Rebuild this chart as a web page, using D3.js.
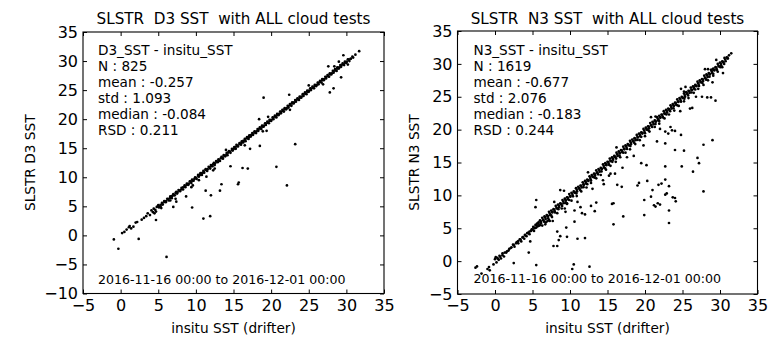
<!DOCTYPE html>
<html><head><meta charset="utf-8">
<script src="https://cdn.jsdelivr.net/npm/d3@7/dist/d3.min.js"></script>
<style>
html,body{margin:0;padding:0;background:#fff;}
text{font-family:"DejaVu Sans",sans-serif;fill:#000;white-space:pre;}
</style></head>
<body><svg id="chart" width="783" height="337"></svg>
<script>
// ---------- data ----------
const xTicks = [-5,0,5,10,15,20,25,30,35];
const yTicksD3 = [-10,-5,0,5,10,15,20,25,30,35];
const yTicksN3 = [-5,0,5,10,15,20,25,30,35];
const titles = ["SLSTR  D3 SST  with ALL cloud tests","SLSTR  N3 SST  with ALL cloud tests"];
const yLabels = ["SLSTR D3 SST","SLSTR N3 SST"];
const xLabel = "insitu SST (drifter)";
const statsD3 = ["D3_SST - insitu_SST","N : 825","mean : -0.257","std : 1.093","median : -0.084","RSD : 0.211"];
const statsN3 = ["N3_SST - insitu_SST","N : 1619","mean : -0.677","std : 2.076","median : -0.183","RSD : 0.244"];
const dateRange = "2016-11-16 00:00 to 2016-12-01 00:00";

// [insitu, SLSTR] pairs
const d3Points = [
[0.2,0.4],[0.5,0.6],[0.8,1.0],[1.1,1.4],[1.2,1.6],[1.4,1.2],[1.7,1.5],[2.0,2.2],[2.2,2.3],[2.8,2.7],[3.1,3.0],[3.4,3.3],[3.6,3.8],[3.9,3.5],[4.1,4.3],[4.3,4.0],[4.5,3.8],[4.6,4.4],[4.8,4.9],[5.0,5.2],[5.1,4.8],[5.3,5.0],[5.5,5.6],[5.6,5.3],[5.8,5.9],[6.0,5.7],[6.2,6.3],[6.4,6.0],[6.6,6.7],[6.8,6.4],[7.0,7.1],[7.2,6.9],[7.4,7.5],[7.5,7.2],[7.7,7.8],[7.9,7.6],[8.1,8.2],[8.3,7.9],[8.5,8.6],[8.6,8.3],[8.8,8.9],[9.0,8.7],[9.2,9.3],[9.4,9.0],[9.5,9.6],[9.7,9.4],[9.9,10.0],[10.1,9.7],[10.3,10.4],[10.4,10.1],[10.6,10.7],[10.8,10.4],[11.0,11.1],[11.1,10.8],[11.3,11.4],[11.5,11.1],[11.7,11.8],[11.9,11.5],[12.0,12.1],[12.2,11.9],[12.4,12.5],[12.5,12.1],[12.7,12.8],[12.9,12.6],[13.0,13.1],[13.2,12.8],[13.4,13.5],[13.6,13.2],[13.7,13.8],[13.9,13.6],[14.1,14.2],[14.2,13.8],[14.4,14.5],[14.6,14.2],[14.8,14.9],[14.9,14.6],[15.1,15.2],[15.3,14.9],[15.4,15.6],[15.6,15.3],[15.8,15.9],[16.0,15.6],[16.1,16.2],[16.3,16.0],[16.5,16.6],[16.6,16.2],[16.8,16.9],[17.0,16.6],[17.1,17.2],[17.3,17.0],[17.5,17.6],[17.6,17.3],[17.8,17.9],[18.0,17.6],[18.2,18.3],[18.3,18.0],[18.5,18.6],[18.7,18.3],[18.8,18.9],[19.0,18.7],[19.2,19.3],[19.3,19.0],[19.5,19.6],[19.7,19.3],[19.8,19.9],[20.0,19.7],[20.2,20.3],[20.3,20.0],[20.5,20.6],[20.7,20.3],[20.8,20.9],[21.0,20.7],[21.2,21.3],[21.3,21.0],[21.5,21.6],[21.7,21.3],[21.8,21.9],[22.0,21.7],[22.2,22.3],[22.3,22.0],[22.5,22.6],[22.7,22.3],[22.8,22.9],[23.0,22.7],[23.2,23.3],[23.3,23.0],[23.5,23.6],[23.7,23.3],[23.8,23.9],[24.0,23.7],[24.2,24.3],[24.3,24.0],[24.5,24.6],[24.7,24.3],[24.8,24.9],[25.0,24.7],[25.2,25.3],[25.3,25.0],[25.5,25.6],[25.7,25.3],[25.8,25.9],[26.0,25.7],[26.2,26.3],[26.3,26.0],[26.5,26.6],[26.7,26.3],[26.8,26.9],[27.0,26.7],[27.2,27.3],[27.3,27.0],[27.5,27.6],[27.7,27.3],[27.8,27.9],[28.0,27.7],[28.2,28.3],[28.3,28.0],[28.5,28.6],[28.7,28.3],[28.8,28.9],[29.0,28.7],[29.2,29.3],[29.3,29.0],[29.5,29.6],[29.7,29.3],[29.8,29.9],[30.0,29.7],[30.2,30.3],[30.4,30.0],[30.6,30.4],[30.9,30.6],[31.2,31.1],[31.7,31.7],
[5.05,4.95],[5.3,5.25],[5.55,5.4],[5.8,5.75],[6.05,5.9],[6.3,6.25],[6.55,6.4],[6.8,6.75],[7.05,6.9],[7.3,7.3],[7.55,7.4],[7.8,7.7],[8.05,7.9],[8.3,8.25],[8.55,8.4],[8.8,8.7],[9.05,8.9],[9.3,9.25],[9.55,9.4],[9.8,9.7],[10.05,9.9],[10.3,10.25],[10.55,10.4],[10.8,10.7],[11.05,10.9],[11.3,11.25],[11.55,11.4],[11.8,11.7],[12.05,11.9],[12.3,12.25],[12.55,12.4],[12.8,12.7],[13.05,12.9],[13.3,13.25],[13.55,13.4],[13.8,13.7],[14.05,13.9],[14.3,14.25],[14.55,14.4],[14.8,14.7],[15.05,14.9],[15.3,15.25],[15.55,15.4],[15.8,15.7],[16.05,15.9],[16.3,16.25],[16.55,16.4],[16.8,16.7],[17.05,16.9],[17.3,17.25],[17.55,17.4],[17.8,17.7],[18.05,17.9],[18.3,18.25],[18.55,18.4],[18.8,18.7],[19.05,18.9],[19.3,19.25],[19.55,19.4],[19.8,19.7],[20.05,19.9],[20.3,20.25],[20.55,20.4],[20.8,20.7],[21.05,20.9],[21.3,21.25],[21.55,21.4],[21.8,21.7],[22.05,21.9],[22.3,22.25],[22.55,22.4],[22.8,22.7],[23.05,22.9],[23.3,23.25],[23.55,23.4],[23.8,23.7],[24.05,23.9],[24.3,24.25],[24.55,24.4],[24.8,24.7],[25.05,24.9],[25.3,25.25],[25.55,25.4],[25.8,25.7],[26.05,25.9],[26.3,26.25],[26.55,26.4],[26.8,26.7],[27.05,26.9],[27.3,27.25],[27.55,27.4],[27.8,27.7],[28.05,27.9],[28.3,28.25],[28.55,28.4],[28.8,28.7],[29.05,28.9],[29.3,29.25],[29.55,29.4],[29.8,29.7],[30.05,29.9],[30.3,30.25],[30.55,30.4],[30.8,30.75],
[14.0,14.7],[16.5,15.5],[19.6,20.4],[22.5,21.6],[25.0,25.8],[26.9,26.0],[28.4,29.1],[29.0,29.9],[30.2,29.4],[18.9,17.9],[12.3,11.2],[9.6,8.6],[7.3,6.3],[6.6,6.0],[4.4,4.6],[4.7,4.1],[5.4,4.7],
[-0.9,-0.7],[-0.3,-2.3],[2.4,-0.6],[6.1,-3.7],[4.7,2.65],[7.0,4.9],[9.5,4.8],[11.0,2.9],[11.9,3.3],[12.0,6.9],[11.3,7.7],[13.2,7.7],[13.4,8.8],[15.6,8.8],[15.7,9.1],[22.1,8.6],[7.4,5.8],[8.7,6.7],[9.4,8.3],[11.4,10.1],[10.4,9.5],[19.0,23.7],[23.2,15.7],[18.4,20.0],[17.2,14.9],[18.5,15.4],[28.3,25.3],[27.8,24.6],[29.3,27.2],[20.7,11.8],[14.6,11.9],[16.2,11.6],[16.9,11.5],[27.6,29.1],[22.4,24.2],[19.4,18.0],[12.5,11.5],[29.6,31.0]
];

const n3Points = [
[-2.6,-1.0],[-2.4,-0.8],[-1.8,-1.9],[-1.0,-1.2],[-0.8,-0.9],[-0.7,-1.4],[-0.2,-0.5],[0.0,0.3],[0.1,0.6],[0.2,-0.2],[0.3,0.5],[0.5,0.2],[0.6,0.8],[0.8,0.4],[1.0,1.2],[1.2,0.7],[1.5,1.3],[1.8,1.6],[2.1,2.0],[2.4,2.5],[2.6,2.2],[2.9,2.9],[3.1,2.7],[3.3,3.3],[3.5,3.0],[3.7,3.6],[3.9,3.4],[4.0,4.0],[4.2,3.8],[4.4,4.3],[4.6,4.1],[4.7,3.0],[4.8,4.6],[5.0,4.8],[5.1,5.2],[5.2,4.6],[5.3,5.0],[5.4,5.5],[5.5,5.1],[5.6,5.7],[5.7,5.3],[5.8,5.9],[5.9,5.4],
[6.0,6.2],[6.3,6.6],[6.6,6.8],[6.9,7.0],[7.2,7.5],[7.5,7.7],[7.8,7.9],[8.1,8.4],[8.4,8.6],[8.7,8.8],[9.0,9.3],[9.3,9.5],[9.6,9.7],[9.9,10.2],[10.2,10.4],[10.5,10.6],[10.8,11.1],[11.1,11.3],[11.4,11.5],[11.7,12.0],[12.0,12.2],[12.3,12.4],[12.6,12.9],[12.9,13.1],[13.2,13.3],[13.5,13.8],[13.8,14.0],[14.1,14.2],[14.4,14.7],[14.7,14.9],[15.0,15.1],[15.3,15.6],[15.6,15.8],[15.9,16.0],[16.2,16.5],[16.5,16.7],[16.8,16.9],[17.1,17.4],[17.4,17.6],[17.7,17.8],[18.0,18.3],[18.3,18.5],[18.6,18.7],[18.9,19.2],[19.2,19.4],[19.5,19.6],[19.8,20.1],[20.1,20.3],[20.4,20.5],[20.7,21.0],[21.0,21.2],[21.3,21.4],[21.6,21.9],[21.9,22.1],[22.2,22.3],[22.5,22.8],[22.8,23.0],[23.1,23.2],[23.4,23.7],[23.7,23.9],[24.0,24.1],[24.3,24.6],[24.6,24.8],[24.9,25.0],[25.2,25.5],[25.5,25.7],[25.8,25.9],[26.1,26.4],[26.4,26.6],[26.7,26.8],[27.0,27.3],[27.3,27.5],[27.6,27.7],[27.9,28.2],[28.2,28.4],[28.5,28.6],[28.8,29.1],[29.1,29.3],[29.4,29.5],[29.7,30.0],[30.0,30.2],[30.3,30.4],[30.6,30.9],[30.9,31.0],[31.2,31.3],[31.5,31.6],
[6.15,5.8],[6.45,6.2],[6.75,6.4],[7.05,6.8],[7.35,7.0],[7.65,7.4],[7.95,7.6],[8.25,8.0],[8.55,8.2],[8.85,8.6],[9.15,8.8],[9.45,9.2],[9.75,9.4],[10.05,9.8],[10.35,10.0],[10.65,10.4],[10.95,10.6],[11.25,11.0],[11.55,11.2],[11.85,11.6],[12.15,11.8],[12.45,12.2],[12.75,12.4],[13.05,12.8],[13.35,13.0],[13.65,13.4],[13.95,13.6],[14.25,14.0],[14.55,14.2],[14.85,14.6],[15.15,14.8],[15.45,15.2],[15.75,15.4],[16.05,15.8],[16.35,16.0],[16.65,16.4],[16.95,16.6],[17.25,17.0],[17.55,17.2],[17.85,17.6],[18.15,17.8],[18.45,18.2],[18.75,18.4],[19.05,18.8],[19.35,19.0],[19.65,19.4],[19.95,19.6],[20.25,20.0],[20.55,20.2],[20.85,20.6],[21.15,20.8],[21.45,21.2],[21.75,21.4],[22.05,21.8],[22.35,22.0],[22.65,22.4],[22.95,22.6],[23.25,23.0],[23.55,23.2],[23.85,23.6],[24.15,23.8],[24.45,24.2],[24.75,24.4],[25.05,24.8],[25.35,25.0],[25.65,25.4],[25.95,25.6],[26.25,26.0],[26.55,26.2],[26.85,26.6],[27.15,26.8],[27.45,27.2],[27.75,27.4],[28.05,27.8],[28.35,28.0],[28.65,28.4],[28.95,28.6],[29.25,29.0],[29.55,29.2],[29.85,29.6],[30.15,29.8],[30.45,30.2],[30.75,30.4],[31.05,30.8],
[0.4,0.35],[0.7,0.65],[1.0,0.9],[1.3,1.3],[1.6,1.5],[1.9,1.85],[2.2,2.1],[2.5,2.45],[2.8,2.7],[3.1,3.05],[3.4,3.3],[3.7,3.65],[4.0,3.9],[4.3,4.25],[4.6,4.5],[4.9,4.85],[5.2,5.1],[5.5,5.45],[5.8,5.7],[6.1,6.05],[6.4,6.3],[6.7,6.65],[7.0,6.9],[7.3,7.25],[7.6,7.5],[7.9,7.85],[8.2,8.1],[8.5,8.45],[8.8,8.7],[9.1,9.05],[9.4,9.3],[9.7,9.65],[10.0,9.9],[10.3,10.25],[10.6,10.5],[10.9,10.85],[11.2,11.1],[11.5,11.45],[11.8,11.7],[12.1,12.05],[12.4,12.3],[12.7,12.65],[13.0,12.9],[13.3,13.25],[13.6,13.5],[13.9,13.85],[14.2,14.1],[14.5,14.45],[14.8,14.7],[15.1,15.05],[15.4,15.3],[15.7,15.65],[16.0,15.9],[16.3,16.25],[16.6,16.5],[16.9,16.85],[17.2,17.1],[17.5,17.45],[17.8,17.7],[18.1,18.05],[18.4,18.3],[18.7,18.65],[19.0,18.9],[19.3,19.25],[19.6,19.5],[19.9,19.85],[20.2,20.1],[20.5,20.45],[20.8,20.7],[21.1,21.05],[21.4,21.3],[21.7,21.65],[22.0,21.9],[22.3,22.25],[22.6,22.5],[22.9,22.85],[23.2,23.1],[23.5,23.45],[23.8,23.7],[24.1,24.05],[24.4,24.3],[24.7,24.65],[25.0,24.9],[25.3,25.25],[25.6,25.5],[25.9,25.85],[26.2,26.1],[26.5,26.45],[26.8,26.7],[27.1,27.05],[27.4,27.3],[27.7,27.65],[28.0,27.9],[28.3,28.25],[28.6,28.5],[28.9,28.85],[29.2,29.1],[29.5,29.45],[29.8,29.7],[30.1,30.05],[30.4,30.3],[30.7,30.65],[31.0,30.9],
[6.05,5.5],[6.55,6.0],[7.1,6.5],[7.5,6.95],[8.0,7.4],[8.45,7.9],[8.95,8.4],[9.4,8.85],[9.9,9.3],[10.4,9.85],[10.85,10.3],[11.35,10.8],[11.8,11.25],[12.3,11.7],[12.8,12.25],[13.25,12.7],[13.75,13.2],[14.2,13.65],[14.7,14.1],[15.2,14.65],[15.65,15.1],[16.15,15.6],[16.6,16.05],[17.1,16.5],[17.6,17.05],[18.05,17.5],[18.55,18.0],[19.0,18.45],[19.5,18.9],[20.0,19.45],[20.45,19.9],[20.95,20.4],[21.4,20.85],[21.9,21.3],[22.4,21.85],[22.85,22.3],[23.35,22.8],[23.8,23.25],[24.3,23.7],[24.8,24.25],[25.25,24.7],[25.75,25.2],[26.2,25.65],[26.7,26.1],[27.2,26.65],[27.65,27.1],[28.15,27.6],[28.6,28.05],[29.1,28.5],[29.6,29.05],[30.05,29.5],[30.55,30.0],
[6.3,5.4],[7.0,6.1],[7.6,6.7],[8.3,7.3],[8.9,8.0],[9.6,8.7],[10.2,9.2],[10.9,9.9],[11.5,10.6],[12.2,11.2],[12.8,11.9],[13.5,12.6],[14.1,13.1],[14.8,13.9],[15.4,14.5],[16.1,15.1],[16.7,15.8],[17.4,16.5],[18.0,17.0],[18.7,17.8],[19.3,18.4],[20.0,19.0],[20.6,19.7],[21.3,20.4],[21.9,20.9],[22.6,21.7],[23.2,22.3],[23.9,22.9],[24.5,23.6],[25.2,24.3],[25.8,24.8],[26.5,25.6],[27.1,26.2],[27.8,26.8],[28.4,27.5],[29.1,28.2],[29.7,28.8],[30.3,29.5],
[7.9,9.0],[12.4,13.5],[16.2,17.3],[20.8,21.9],[25.4,26.5],[29.5,30.6],[9.4,7.5],[11.0,9.0],[13.0,11.0],[15.2,13.0],[17.6,15.8],[19.8,17.6],[22.0,20.1],[24.7,22.8],[26.8,25.0],[29.0,27.2],[30.4,28.6],[6.8,5.9],[7.3,6.1],
[2.5,-0.3],[4.5,1.3],[5.5,-0.6],[5.5,9.3],[5.4,8.2],[7.8,2.3],[8.3,2.3],[8.5,3.2],[8.7,3.8],[8.3,4.5],[9.5,5.1],[9.6,3.7],[10.3,-1.2],[10.5,-0.5],[10.6,7.7],[10.6,6.0],[11.0,3.4],[12.0,3.5],[11.4,8.2],[11.6,7.3],[12.0,7.1],[12.6,-0.85],[12.8,8.4],[13.3,7.6],[13.5,8.9],[14.4,12.3],[14.5,11.7],[15.6,8.7],[15.8,8.8],[15.8,5.6],[15.4,13.3],[16.0,13.3],[16.3,11.6],[16.9,11.3],[17.1,6.8],[19.0,11.5],[19.2,11.9],[19.9,9.3],[19.9,7.0],[20.3,12.2],[21.0,10.8],[20.8,9.8],[21.2,8.5],[21.4,8.3],[21.7,8.8],[22.0,8.6],[21.8,11.6],[22.2,11.8],[22.7,12.4],[22.7,10.1],[22.9,10.3],[23.2,11.4],[23.2,7.7],[23.2,5.8],[23.7,9.7],[24.0,9.6],[24.1,9.1],[27.8,10.6],[26.4,13.6],[27.6,25.0],[28.3,24.9],[28.8,24.9],[29.4,24.4],[26.0,23.2],[26.3,23.3],[21.4,22.0],[21.8,21.5],[23.4,20.4],[23.6,19.9],[24.0,19.8],[24.8,19.2],[22.7,19.7],[23.1,19.4],[21.6,18.2],[27.8,17.7],[29.0,18.4],[27.0,15.7],[24.0,16.9],[25.2,16.8],[22.7,14.4],[24.9,14.4],[27.2,14.9],[19.5,14.9],[22.7,17.9],[24.8,26.2],[25.2,25.8],[28.0,29.2],[28.4,29.2],[28.9,29.1],[6.7,5.6],[7.2,6.25],[7.7,6.1],[9.3,8.0],[9.6,8.8],[8.7,10.8],[9.2,10.7],[18.5,16.0],[20.2,14.6],[17.0,14.2]
];

// ---------- drawing ----------
const svg = d3.select("#chart");
const panels = [
  {pts:d3Points, yTicks:yTicksD3, yDom:[-10,35], x0:83, x1:384, y0:293.5, y1:32, title:titles[0], ylab:yLabels[0], stats:statsD3, titleY:24, ylabX:30, statX:98, statY:55, dateY:284},
  {pts:n3Points, yTicks:yTicksN3, yDom:[-5,35], x0:457.5, x1:757.5, y0:294, y1:31, title:titles[1], ylab:yLabels[1], stats:statsN3, titleY:23.5, ylabX:414, statX:473.5, statY:54.5, dateY:283}
];

panels.forEach(p => {
  const x = d3.scaleLinear().domain([-5,35]).range([p.x0,p.x1]);
  const y = d3.scaleLinear().domain(p.yDom).range([p.y0,p.y1]);
  const g = svg.append("g");
  const fmt = d => d3.format("d")(d);

  g.append("g").attr("transform",`translate(0,${p.y0})`)
    .call(d3.axisBottom(x).tickValues(xTicks).tickFormat(fmt).tickSizeInner(-4).tickSizeOuter(0).tickPadding(6));
  g.append("g").attr("transform",`translate(0,${p.y1})`)
    .call(d3.axisTop(x).tickValues(xTicks).tickFormat("").tickSizeInner(-4).tickSizeOuter(0));
  g.append("g").attr("transform",`translate(${p.x0},0)`)
    .call(d3.axisLeft(y).tickValues(p.yTicks).tickFormat(fmt).tickSizeInner(-4).tickSizeOuter(0).tickPadding(5));
  g.append("g").attr("transform",`translate(${p.x1},0)`)
    .call(d3.axisRight(y).tickValues(p.yTicks).tickFormat("").tickSizeInner(-4).tickSizeOuter(0));

  g.selectAll(".domain").remove();
  g.selectAll(".tick line").attr("stroke","#000").attr("stroke-width",1);
  g.selectAll(".tick text").attr("font-family","DejaVu Sans").attr("font-size","16px").attr("fill","#000");

  g.append("rect").attr("x",p.x0).attr("y",p.y1).attr("width",p.x1-p.x0).attr("height",p.y0-p.y1)
    .attr("fill","none").attr("stroke","#000").attr("stroke-width",1.1);

  g.append("g").selectAll("circle").data(p.pts).join("circle")
    .attr("cx",d=>x(d[0])).attr("cy",d=>y(d[1])).attr("r",1.35).attr("fill","#000");

  g.append("text").attr("x",(p.x0+p.x1)/2).attr("y",p.titleY).attr("text-anchor","middle")
    .attr("font-size","15.2px").text(p.title);
  g.append("text").attr("x",(p.x0+p.x1)/2).attr("y",333).attr("text-anchor","middle")
    .attr("font-size","13.7px").text(xLabel);
  g.append("text").attr("transform",`translate(${p.ylabX},${(p.y0+p.y1)/2}) rotate(-90)`)
    .attr("text-anchor","middle").attr("dy","0.35em").attr("font-size","13.7px").text(p.ylab);
  g.append("g").selectAll("text").data(p.stats).join("text")
    .attr("x",p.statX).attr("y",(d,i)=>p.statY+i*16).attr("font-size","13.6px").text(d=>d);
  g.append("text").attr("x",p.statX).attr("y",p.dateY).attr("font-size","12.6px").text(dateRange);
});
</script>
</body></html>
